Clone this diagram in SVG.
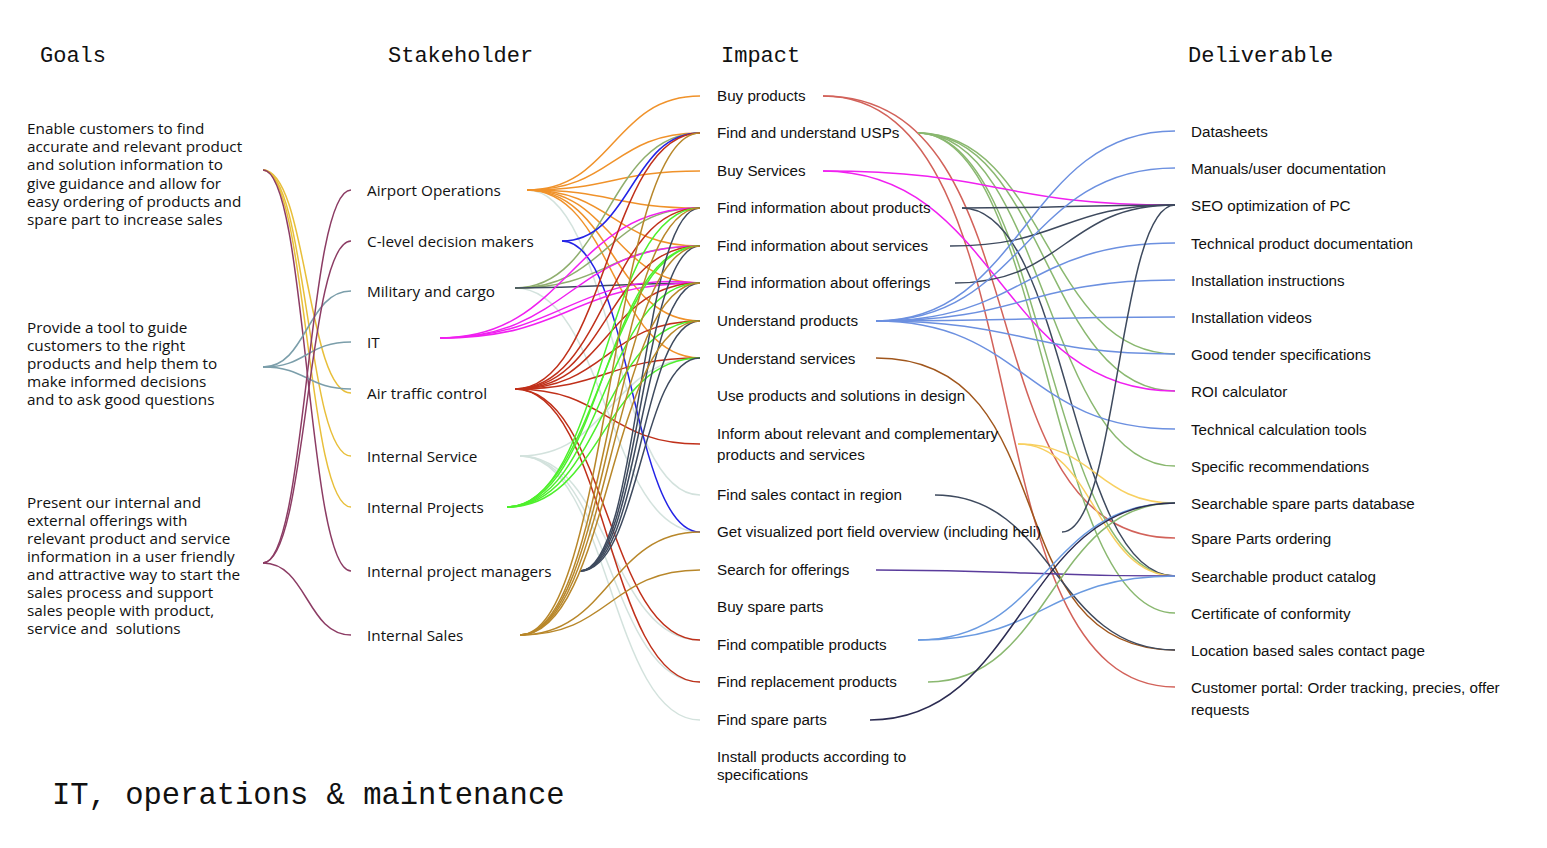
<svg xmlns="http://www.w3.org/2000/svg" width="1547" height="848" viewBox="0 0 1547 848">
<style>
.h{font-family:"Liberation Mono","DejaVu Sans Mono",monospace;font-size:22px;fill:#111}
.t{font-family:"Liberation Mono","DejaVu Sans Mono",monospace;font-size:30.5px;fill:#111}
.g{font-family:"Open Sans","Noto Sans",sans-serif;font-size:15.3px;fill:#111}
.a{font-family:"Liberation Sans",Arial,sans-serif;font-size:15.2px;fill:#111}
path{fill:none;stroke-width:1.5}
.cy{stroke:#e8bf3a}.cp{stroke:#8c3c64}.cb{stroke:#7b9eaa}
.or{stroke:#f0922a}.bl{stroke:#2323e6}.ol{stroke:#8fae6e}.dk{stroke:#3e4a5e}.lg{stroke:#d3e2dd}
.mg{stroke:#f020f0}.rd{stroke:#c0301a}.gr{stroke:#4ef02c}.gd{stroke:#b8872a}
.rr{stroke:#d2625a}.gn{stroke:#8ab870}.ub{stroke:#6c90e0}.br{stroke:#a0561c}.ye{stroke:#f8d060}
.pu{stroke:#5a3c9c}.nv{stroke:#2c2c52}.cb2{stroke:#6a9ae0}
</style>
<rect width="1547" height="848" fill="#fff"/>
<g id="connectors">
<path class="cy" d="M263,170 C307,170 307,393 351,393"/>
<path class="cy" d="M263,170 C307,170 307,456 351,456"/>
<path class="cy" d="M263,170 C307,170 307,507 351,507"/>
<path class="cp" d="M263,170 C307,170 307,571 351,571"/>
<path class="cb" d="M263,367 C307,367 307,291 351,291"/>
<path class="cb" d="M263,367 C307,367 307,342 351,342"/>
<path class="cb" d="M263,367 C307,367 307,389 351,389"/>
<path class="cp" d="M263,563 C307,563 307,190 351,190"/>
<path class="cp" d="M263,563 C307,563 307,241 351,241"/>
<path class="cp" d="M263,563 C307,563 307,635 351,635"/>
<path class="lg" d="M527,190 C613,190 613,495 700,495"/>
<path class="lg" d="M515,288 C607,288 607,532 700,532"/>
<path class="lg" d="M520,456 C610,456 610,358 700,358"/>
<path class="lg" d="M520,456 C610,456 610,640 700,640"/>
<path class="lg" d="M520,456 C610,456 610,682 700,682"/>
<path class="lg" d="M520,456 C610,456 610,720 700,720"/>
<path class="or" d="M527,190 C613,190 613,96 700,96"/>
<path class="or" d="M527,190 C613,190 613,133 700,133"/>
<path class="or" d="M527,190 C613,190 613,171 700,171"/>
<path class="or" d="M527,190 C613,190 613,208 700,208"/>
<path class="or" d="M527,190 C613,190 613,246 700,246"/>
<path class="or" d="M527,190 C613,190 613,283 700,283"/>
<path class="or" d="M527,190 C613,190 613,321 700,321"/>
<path class="or" d="M527,190 C613,190 613,358 700,358"/>
<path class="ol" d="M515,288 C607,288 607,133 700,133"/>
<path class="ol" d="M515,288 C607,288 607,208 700,208"/>
<path class="ol" d="M515,288 C607,288 607,246 700,246"/>
<path class="dk" d="M515,288 C607,288 607,283 700,283"/>
<path class="bl" d="M562,241 C631,241 631,133 700,133"/>
<path class="bl" d="M562,241 C631,241 631,532 700,532"/>
<path class="mg" d="M440,338 C570,338 570,208 700,208"/>
<path class="mg" d="M440,338 C570,338 570,246 700,246"/>
<path class="mg" d="M440,338 C570,338 570,283 700,283"/>
<path class="mg" d="M440,338 C560,338 580,270 700,283"/>
<path class="rd" d="M515,389 C607,389 607,133 700,133"/>
<path class="rd" d="M515,389 C607,389 607,208 700,208"/>
<path class="rd" d="M515,389 C607,389 607,246 700,246"/>
<path class="rd" d="M515,389 C607,389 607,283 700,283"/>
<path class="rd" d="M515,389 C607,389 607,321 700,321"/>
<path class="rd" d="M515,389 C607,389 607,358 700,358"/>
<path class="rd" d="M515,389 C607,389 607,444 700,444"/>
<path class="rd" d="M515,389 C607,389 607,640 700,640"/>
<path class="rd" d="M515,389 C607,389 607,682 700,682"/>
<path class="gr" d="M507,507 C603,507 603,208 700,208"/>
<path class="gr" d="M507,507 C603,507 603,246 700,246"/>
<path class="gr" d="M507,507 C596,507 610,246 700,246"/>
<path class="gr" d="M507,507 C603,507 603,283 700,283"/>
<path class="gr" d="M507,507 C603,507 603,321 700,321"/>
<path class="gr" d="M507,507 C603,507 603,358 700,358"/>
<path class="dk" d="M580,571 C640,571 640,208 700,208"/>
<path class="dk" d="M580,571 C640,571 640,246 700,246"/>
<path class="dk" d="M580,571 C640,571 640,283 700,283"/>
<path class="dk" d="M580,571 C640,571 640,321 700,321"/>
<path class="dk" d="M580,571 C640,571 640,358 700,358"/>
<path class="gd" d="M520,635 C610,635 610,133 700,133"/>
<path class="gd" d="M520,635 C610,635 610,208 700,208"/>
<path class="gd" d="M520,635 C610,635 610,246 700,246"/>
<path class="gd" d="M520,635 C610,635 610,283 700,283"/>
<path class="gd" d="M520,635 C610,635 610,321 700,321"/>
<path class="gd" d="M520,635 C610,635 610,532 700,532"/>
<path class="gd" d="M520,635 C610,635 610,570 700,570"/>
<path class="rr" d="M823,96 C1050,96 960,538 1175,538"/>
<path class="rr" d="M823,96 C1050,96 960,687 1175,687"/>
<path class="gn" d="M918,133 C1046,133 1046,354 1175,354"/>
<path class="gn" d="M918,133 C1046,133 1046,391 1175,391"/>
<path class="gn" d="M918,133 C1046,133 1046,466 1175,466"/>
<path class="gn" d="M918,133 C1046,133 1046,576 1175,576"/>
<path class="gn" d="M918,133 C1046,133 1046,613 1175,613"/>
<path class="mg" d="M823,171 C999,171 999,205 1175,205"/>
<path class="mg" d="M823,171 C999,171 999,391 1175,391"/>
<path class="dk" d="M962,208 C1068,208 1068,205 1175,205"/>
<path class="dk" d="M962,208 C1068,208 1068,576 1175,576"/>
<path class="dk" d="M950,246 C1062,246 1062,205 1175,205"/>
<path class="dk" d="M955,283 C1065,283 1065,205 1175,205"/>
<path class="ub" d="M876,321 C1025,321 1025,131 1175,131"/>
<path class="ub" d="M876,321 C1025,321 1025,168 1175,168"/>
<path class="ub" d="M876,321 C1025,321 1025,243 1175,243"/>
<path class="ub" d="M876,321 C1025,321 1025,280 1175,280"/>
<path class="ub" d="M876,321 C1025,321 1025,317 1175,317"/>
<path class="ub" d="M876,321 C1025,321 1025,354 1175,354"/>
<path class="ub" d="M876,321 C1025,321 1025,429 1175,429"/>
<path class="br" d="M876,358 C1070,358 990,650 1175,650"/>
<path class="ye" d="M1018,444 C1096,444 1096,503 1175,503"/>
<path class="ye" d="M1018,444 C1096,444 1096,576 1175,576"/>
<path class="dk" d="M935,495 C1055,495 1055,650 1175,650"/>
<path class="dk" d="M1062,532 C1118,532 1118,205 1175,205"/>
<path class="pu" d="M876,570 C1025,570 1025,576 1175,576"/>
<path class="cb2" d="M918,640 C1046,640 1046,503 1175,503"/>
<path class="cb2" d="M918,640 C1046,640 1046,576 1175,576"/>
<path class="gn" d="M928,682 C1051,682 1051,503 1175,503"/>
<path class="nv" d="M870,720 C1022,720 1022,503 1175,503"/>
</g>
<g id="headers">
<text class="h" x="40" y="62">Goals</text>
<text class="h" x="388" y="62">Stakeholder</text>
<text class="h" x="721" y="62">Impact</text>
<text class="h" x="1188" y="62">Deliverable</text>
<text class="t" x="52" y="804">IT, operations &amp; maintenance</text>
</g>
<g id="goal1"><text class="g" x="27" y="134"><tspan x="27">Enable customers to find</tspan><tspan x="27" dy="18.2">accurate and relevant product</tspan><tspan x="27" dy="18.2">and solution information to</tspan><tspan x="27" dy="18.2">give guidance and allow for</tspan><tspan x="27" dy="18.2">easy ordering of products and</tspan><tspan x="27" dy="18.2">spare part to increase sales</tspan></text></g>
<g id="goal2"><text class="g" x="27" y="333"><tspan x="27">Provide a tool to guide</tspan><tspan x="27" dy="18">customers to the right</tspan><tspan x="27" dy="18">products and help them to</tspan><tspan x="27" dy="18">make informed decisions</tspan><tspan x="27" dy="18">and to ask good questions</tspan></text></g>
<g id="goal3"><text class="g" x="27" y="508" xml:space="preserve"><tspan x="27">Present our internal and</tspan><tspan x="27" dy="18">external offerings with</tspan><tspan x="27" dy="18">relevant product and service</tspan><tspan x="27" dy="18">information in a user friendly</tspan><tspan x="27" dy="18">and attractive way to start the</tspan><tspan x="27" dy="18">sales process and support</tspan><tspan x="27" dy="18">sales people with product,</tspan><tspan x="27" dy="18">service and  solutions</tspan></text></g>
<g id="s-airport"><text class="g" x="367" y="196">Airport Operations</text></g>
<g id="s-clevel"><text class="g" x="367" y="247">C-level decision makers</text></g>
<g id="s-military"><text class="g" x="367" y="297">Military and cargo</text></g>
<g id="s-it"><text class="g" x="367" y="348">IT</text></g>
<g id="s-atc"><text class="g" x="367" y="399">Air traffic control</text></g>
<g id="s-intservice"><text class="g" x="367" y="462">Internal Service</text></g>
<g id="s-intprojects"><text class="g" x="367" y="513">Internal Projects</text></g>
<g id="s-intpm"><text class="g" x="367" y="577">Internal project managers</text></g>
<g id="s-intsales"><text class="g" x="367" y="641">Internal Sales</text></g>
<g id="i-buyproducts"><text class="a" x="717" y="101">Buy products</text></g>
<g id="i-usps"><text class="a" x="717" y="138">Find and understand USPs</text></g>
<g id="i-buyservices"><text class="a" x="717" y="176">Buy Services</text></g>
<g id="i-infoproducts"><text class="a" x="717" y="213">Find information about products</text></g>
<g id="i-infoservices"><text class="a" x="717" y="251">Find information about services</text></g>
<g id="i-infoofferings"><text class="a" x="717" y="288">Find information about offerings</text></g>
<g id="i-understandproducts"><text class="a" x="717" y="326">Understand products</text></g>
<g id="i-understandservices"><text class="a" x="717" y="364">Understand services</text></g>
<g id="i-useproducts"><text class="a" x="717" y="401">Use products and solutions in design</text></g>
<g id="i-inform"><text class="a" x="717" y="439"><tspan x="717">Inform about relevant and complementary</tspan><tspan x="717" dy="21">products and services</tspan></text></g>
<g id="i-salescontact"><text class="a" x="717" y="500">Find sales contact in region</text></g>
<g id="i-visualized"><text class="a" x="717" y="537">Get visualized port field overview (including heli)</text></g>
<g id="i-searchofferings"><text class="a" x="717" y="575">Search for offerings</text></g>
<g id="i-buyspare"><text class="a" x="717" y="612">Buy spare parts</text></g>
<g id="i-compatible"><text class="a" x="717" y="650">Find compatible products</text></g>
<g id="i-replacement"><text class="a" x="717" y="687">Find replacement products</text></g>
<g id="i-spareparts"><text class="a" x="717" y="725">Find spare parts</text></g>
<g id="i-install"><text class="a" x="717" y="762"><tspan x="717">Install products according to</tspan><tspan x="717" dy="18">specifications</tspan></text></g>
<g id="d-datasheets"><text class="a" x="1191" y="137">Datasheets</text></g>
<g id="d-manuals"><text class="a" x="1191" y="174">Manuals/user documentation</text></g>
<g id="d-seo"><text class="a" x="1191" y="211">SEO optimization of PC</text></g>
<g id="d-techdoc"><text class="a" x="1191" y="249">Technical product documentation</text></g>
<g id="d-instinstr"><text class="a" x="1191" y="286">Installation instructions</text></g>
<g id="d-instvideos"><text class="a" x="1191" y="323">Installation videos</text></g>
<g id="d-tender"><text class="a" x="1191" y="360">Good tender specifications</text></g>
<g id="d-roi"><text class="a" x="1191" y="397">ROI calculator</text></g>
<g id="d-techcalc"><text class="a" x="1191" y="435">Technical calculation tools</text></g>
<g id="d-specific"><text class="a" x="1191" y="472">Specific recommendations</text></g>
<g id="d-sparedb"><text class="a" x="1191" y="509">Searchable spare parts database</text></g>
<g id="d-spareorder"><text class="a" x="1191" y="544">Spare Parts ordering</text></g>
<g id="d-catalog"><text class="a" x="1191" y="582">Searchable product catalog</text></g>
<g id="d-cert"><text class="a" x="1191" y="619">Certificate of conformity</text></g>
<g id="d-location"><text class="a" x="1191" y="656">Location based sales contact page</text></g>
<g id="d-portal"><text class="a" x="1191" y="693"><tspan x="1191">Customer portal: Order tracking, precies, offer</tspan><tspan x="1191" dy="22">requests</tspan></text></g>
</svg>
